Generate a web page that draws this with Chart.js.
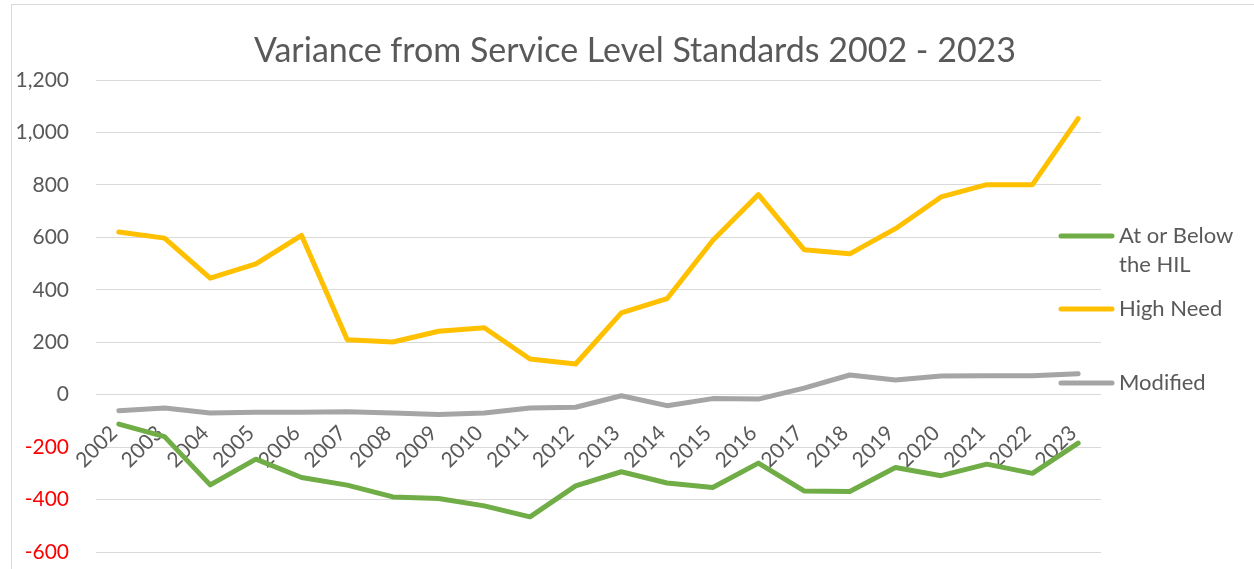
<!DOCTYPE html>
<html>
<head>
<meta charset="utf-8">
<script src="https://cdn.jsdelivr.net/npm/chart.js@4.4.1/dist/chart.umd.min.js"></script>
<style>
  html, body { margin: 0; padding: 0; background: #fff; }
  #wrap { position: relative; width: 1254px; height: 569px; overflow: hidden; }
  #frame { position: absolute; left: 11px; top: 4px; width: 1300px; height: 600px;
           border-left: 1px solid #d9d9d9; border-top: 1px solid #d9d9d9; pointer-events: none; }
</style>
</head>
<body>
<div id="wrap">
  <canvas id="chart" width="1254" height="569"></canvas>
  <div id="frame"></div>
</div>
<script>
const title = "Variance from Service Level Standards 2002 - 2023";

const years = ["2002", "2003", "2004", "2005", "2006", "2007", "2008", "2009", "2010", "2011", "2012",
  "2013", "2014", "2015", "2016", "2017", "2018", "2019", "2020", "2021", "2022", "2023"];

const seriesNames = ["At or Below the HIL", "High Need", "Modified"];

const atOrBelow = [-112, -160, -344, -246, -316, -345, -390, -396, -424, -466, -348,
  -294, -337, -354, -261, -367, -369, -278, -309, -265, -300, -185];
const highNeed = [620, 597, 444, 499, 607, 209, 201, 242, 255, 136, 117,
  312, 366, 588, 763, 553, 537, 633, 754, 801, 801, 1053];
const modified = [-61, -51, -70, -67, -67, -65, -70, -76, -70, -51, -48,
  -4, -42, -15, -17, 25, 75, 56, 71, 72, 72, 80];

const yMin = -600, yMax = 1200, yStep = 200;

const colors = ["#70AD47", "#FFC000", "#A5A5A5"];
const textColor = "#595959";
const font = "Lato";

// title + the excel-style legend on the right
const sidePlugin = {
  id: "side",
  afterDraw(c) {
    const ctx = c.ctx;
    ctx.save();
    ctx.fillStyle = textColor;
    ctx.font = `34px ${font}`;
    ctx.textAlign = "center";
    ctx.textBaseline = "alphabetic";
    ctx.fillText(title, 635, 62);

    ctx.font = `22px ${font}`;
    ctx.textAlign = "left";
    ctx.textBaseline = "middle";
    const rows = [236, 309, 383];
    c.data.datasets.forEach((ds, i) => {
      const y = rows[i];
      ctx.strokeStyle = ds.borderColor;
      ctx.lineWidth = 5;
      ctx.lineCap = "round";
      ctx.beginPath();
      ctx.moveTo(1061, y);
      ctx.lineTo(1112, y);
      ctx.stroke();
      // wrap words at ~130px
      let lines = [], cur = "";
      ds.label.split(" ").forEach(w => {
        const t = cur ? cur + " " + w : w;
        if (ctx.measureText(t).width > 130 && cur) { lines.push(cur); cur = w; }
        else cur = t;
      });
      lines.push(cur);
      lines.forEach((l, k) => ctx.fillText(l, 1119, y + k * 29));
    });
    ctx.restore();
  }
};

const makeSet = (i, data) => ({
  label: seriesNames[i],
  data: data,
  borderColor: colors[i],
  backgroundColor: colors[i],
  borderWidth: 5,
  borderCapStyle: "round",
  borderJoinStyle: "round",
  pointRadius: 0,
  tension: 0
});

new Chart(document.getElementById("chart"), {
  type: "line",
  data: {
    labels: years,
    datasets: [makeSet(0, atOrBelow), makeSet(1, highNeed), makeSet(2, modified)]
  },
  options: {
    responsive: false,
    animation: false,
    layout: { padding: { left: 0, right: 153, top: 80, bottom: 17 } },
    plugins: {
      legend: { display: false },
      title: { display: false },
      tooltip: { enabled: false }
    },
    scales: {
      x: {
        position: { y: 0 },
        offset: true,
        grid: { display: false },
        border: { display: false },
        ticks: {
          autoSkip: false,
          minRotation: 45,
          maxRotation: 45,
          padding: 18,
          labelOffset: -5,
          color: textColor,
          font: { family: font, size: 21 }
        },
        afterFit(s) { s.height = 0; }
      },
      y: {
        min: yMin,
        max: yMax,
        grid: { color: "#d9d9d9", lineWidth: 1, drawTicks: false },
        border: { display: false },
        ticks: {
          stepSize: yStep,
          padding: 27,
          color: (t) => t.tick && t.tick.value < 0 ? "#FF0000" : textColor,
          font: { family: font, size: 21 },
          callback: (v) => v.toLocaleString("en-US")
        },
        afterFit(s) {
          s.width = 96;
          s.paddingTop = 0;
          s.paddingBottom = 0;
        }
      }
    }
  },
  plugins: [sidePlugin]
});
</script>
</body>
</html>
